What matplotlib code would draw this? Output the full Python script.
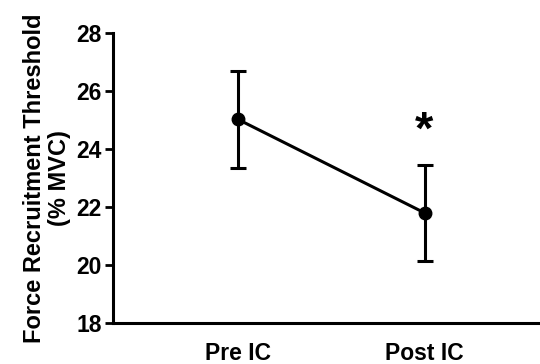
import matplotlib
matplotlib.use("Agg")
import matplotlib.pyplot as plt

# values
groups = ["Pre IC", "Post IC"]
means = [25.03, 21.80]
errs = [1.67, 1.65]
sig_y = 24.6  # where the asterisk sits over Post IC

plt.rcParams["font.family"] = ["Liberation Sans", "DejaVu Sans"]
plt.rcParams["font.weight"] = "bold"

fig = plt.figure(figsize=(5.4, 3.64), dpi=100)
ax = fig.add_axes([0.209, 0.1126, 0.791, 0.7964])

x = list(range(len(groups)))
ax.errorbar(x, means, yerr=errs, fmt="-o", color="black", lw=2.2,
            ms=9, elinewidth=2.2, capsize=6, capthick=2.2)
ax.text(x[1], sig_y, "*", ha="center", va="center", fontsize=34,
        fontweight="bold")

ax.set_xlim(-0.668, 1.618)
ax.set_ylim(18, 28)
ax.set_yticks([18, 20, 22, 24, 26, 28])
ax.set_xticks(x)
ax.set_xticklabels(groups, fontsize=16.5, fontweight="bold")
ax.tick_params(axis="x", length=0, pad=14)
ax.tick_params(axis="y", labelsize=16.5, length=6, width=2, pad=2)
for lab in ax.get_yticklabels():
    lab.set_fontweight("bold")
ax.set_ylabel("Force Recruitment Threshold\n(% MVC)", fontsize=17,
              fontweight="bold", labelpad=4, linespacing=1.1)
for s in ["top", "right"]:
    ax.spines[s].set_visible(False)
for s in ["left", "bottom"]:
    ax.spines[s].set_linewidth(2.2)

fig.savefig("out.png", dpi=100)
